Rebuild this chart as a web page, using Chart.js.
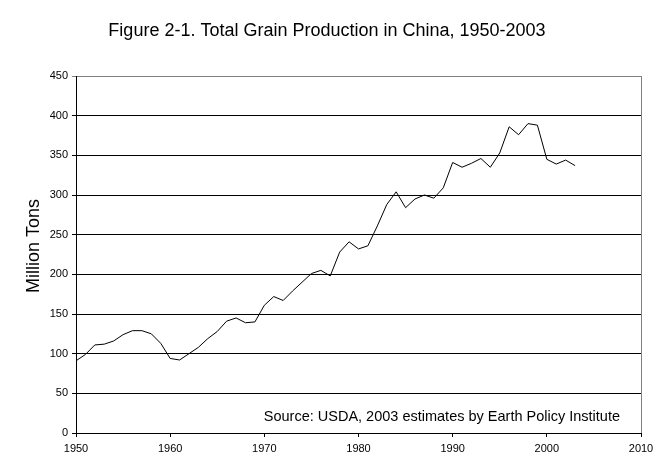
<!DOCTYPE html>
<html>
<head>
<meta charset="utf-8">
<script src="https://cdn.jsdelivr.net/npm/chart.js@4/dist/chart.umd.min.js"></script>
<style>
    html, body { margin: 0; padding: 0; background: #fff; }
    #wrap { width: 670px; height: 475px; }
</style>
</head>
<body>
<div id="wrap"><canvas id="grainChart" width="670" height="475"></canvas></div>
<script>
// Data (million tons)
const years = [1950, 1951, 1952, 1953, 1954, 1955, 1956, 1957, 1958, 1959,
               1960, 1961, 1962, 1963, 1964, 1965, 1966, 1967, 1968, 1969,
               1970, 1971, 1972, 1973, 1974, 1975, 1976, 1977, 1978, 1979,
               1980, 1981, 1982, 1983, 1984, 1985, 1986, 1987, 1988, 1989,
               1990, 1991, 1992, 1993, 1994, 1995, 1996, 1997, 1998, 1999,
               2000, 2001, 2002, 2003];
const grain = [91, 99, 111, 112, 116, 124, 129, 129, 125, 113,
               94, 92, 100, 108, 119, 128, 141, 145, 139, 140,
               161, 172, 167, 179, 190, 201, 205, 198, 228, 241,
               232, 236, 261, 288, 304, 284, 295, 300, 296, 309,
               341, 335, 340, 346, 335, 353, 386, 376, 390, 388,
               345, 339, 344, 337];
const yTicks = [0, 50, 100, 150, 200, 250, 300, 350, 400, 450];
const xTicks = [1950, 1960, 1970, 1980, 1990, 2000, 2010];

const titleText = "Figure 2-1. Total Grain Production in China, 1950-2003";
const yTitle = "Million Tons";
const sourceText = "Source: USDA, 2003 estimates by Earth Policy Institute";

const FONT = "Arial, 'Liberation Sans', sans-serif";

// Title, axis title, source note and right frame line
const extrasPlugin = {
    id: "extras",
    afterDraw(chart) {
        const ctx = chart.ctx;
        const area = chart.chartArea;
        ctx.save();

        // right border of plot
        ctx.strokeStyle = "#808080";
        ctx.lineWidth = 1;
        ctx.beginPath();
        ctx.moveTo(Math.round(area.right) + 0.5, area.top);
        ctx.lineTo(Math.round(area.right) + 0.5, area.bottom);
        ctx.stroke();

        ctx.fillStyle = "#000";
        ctx.font = "18px " + FONT;
        ctx.textAlign = "center";
        ctx.textBaseline = "alphabetic";
        ctx.fillText(titleText, 327, 36);

        ctx.save();
        ctx.translate(34, 246);
        ctx.rotate(-Math.PI / 2);
        ctx.font = "18px " + FONT;
        ctx.textBaseline = "middle";
        ctx.fillText(yTitle, 0, 0);
        ctx.restore();

        ctx.font = "14.5px " + FONT;
        ctx.textAlign = "right";
        ctx.textBaseline = "alphabetic";
        ctx.fillText(sourceText, 620, 421);

        ctx.restore();
    }
};

const ctx = document.getElementById("grainChart").getContext("2d");

const grainChart = new Chart(ctx, {
    type: "line",
    data: {
        datasets: [{
            label: "Total Grain Production",
            data: years.map((yr, i) => ({ x: yr, y: grain[i] })),
            borderColor: "#000",
            borderWidth: 1,
            pointRadius: 0,
            tension: 0,
            fill: false
        }]
    },
    options: {
        responsive: false,
        animation: false,
        layout: { padding: { top: 76, right: 29, left: 0, bottom: 0 } },
        plugins: {
            legend: { display: false },
            tooltip: { enabled: false }
        },
        scales: {
            x: {
                type: "linear",
                min: 1950,
                max: 2010,
                afterBuildTicks: (scale) => { scale.ticks = xTicks.map(v => ({ value: v })); },
                afterFit: (scale) => { scale.height = 42; },
                grid: { drawOnChartArea: false, drawTicks: true, tickLength: 4, color: "#000" },
                border: { color: "#000", width: 1 },
                ticks: {
                    color: "#000",
                    font: { family: FONT, size: 11 },
                    padding: 5,
                    maxRotation: 0,
                    callback: (v) => String(v)
                }
            },
            y: {
                min: 0,
                max: 450,
                afterBuildTicks: (scale) => { scale.ticks = yTicks.map(v => ({ value: v })); },
                afterFit: (scale) => { scale.width = 76; },
                grid: {
                    color: (c) => (c.tick && c.tick.value === 450 ? "#808080" : "#000"),
                    lineWidth: 1,
                    tickLength: 4
                },
                border: { color: "#000", width: 1 },
                ticks: {
                    color: "#000",
                    font: { family: FONT, size: 11 },
                    padding: 4
                }
            }
        }
    },
    plugins: [extrasPlugin]
});
</script>
</body>
</html>
